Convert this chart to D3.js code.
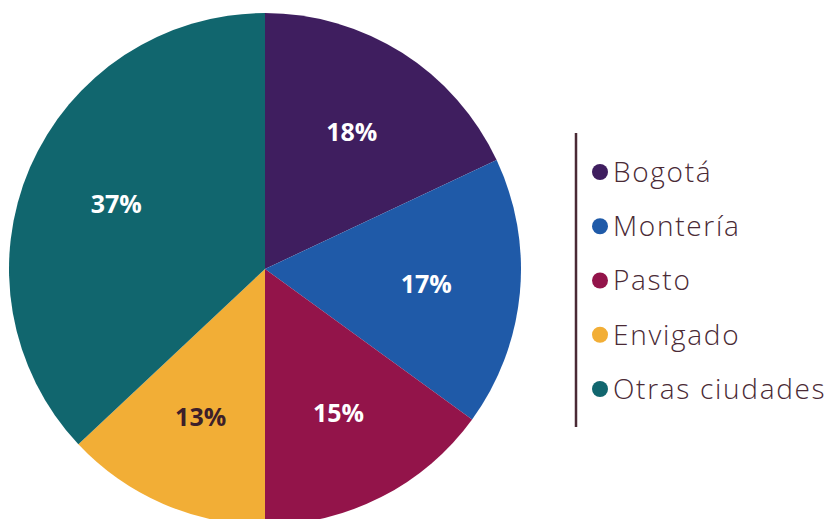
<!DOCTYPE html>
<html>
<head>
  <meta charset="UTF-8">
  <title>Ciudades</title>
  <script src="https://d3js.org/d3.v7.min.js"></script>
  <style>
    body { margin: 0; background: #fff; }
    .chart text { font-family: "Open Sans", Lato, sans-serif; }
  </style>
</head>
<body>

<div class="chart"></div>

<script>

  var categories = ['Bogotá', 'Montería', 'Pasto', 'Envigado', 'Otras ciudades'];
  var values = [18, 17, 15, 13, 37];
  var colors = ['#3f1e5f', '#1f5aa8', '#93144a', '#f2ae36', '#11666e'];
  var labelColors = ['#fff', '#fff', '#fff', '#3d1f2a', '#fff'];

  var width = 830, height = 519;
  var cx = 265, cy = 269, radius = 256;

  var svg = d3.select('.chart')
    .append('svg')
      .attr('width', width)
      .attr('height', height);

  var data = categories.map((c, i) => ({ name: c, value: values[i], color: colors[i], lc: labelColors[i] }));

  var pie = d3.pie().sort(null).value(d => d.value);
  var arc = d3.arc().innerRadius(0).outerRadius(radius);
  var labelArc = d3.arc().innerRadius(162).outerRadius(162);

  var g = svg.append('g')
    .attr('transform', `translate(${cx}, ${cy})`);

  var slices = g.selectAll('.slice')
    .data(pie(data))
    .enter()
    .append('g')
    .attr('class', 'slice');

  slices.append('path')
    .attr('d', arc)
    .style('fill', d => d.data.color);

  slices.append('text')
    .attr('transform', d => `translate(${labelArc.centroid(d)})`)
    .attr('dy', '0.35em')
    .style('text-anchor', 'middle')
    .style('font-size', '25px')
    .style('font-weight', 'bold')
    .style('fill', d => d.data.lc)
    .text(d => d.data.value + '%');

  // legend
  var legendY = d3.scalePoint()
    .domain(categories)
    .range([172, 389]);

  svg.append('line')
    .attr('x1', 576).attr('x2', 576)
    .attr('y1', 133).attr('y2', 427)
    .style('stroke', '#4a2a35')
    .style('stroke-width', 2.5);

  var items = svg.selectAll('.legend')
    .data(data)
    .enter()
    .append('g')
    .attr('class', 'legend')
    .attr('transform', d => `translate(600, ${legendY(d.name)})`);

  items.append('circle')
    .attr('r', 8)
    .style('fill', d => d.color);

  items.append('text')
    .attr('x', 13)
    .attr('dy', '0.35em')
    .style('font-size', '28px')
    .style('font-weight', 300)
    .style('letter-spacing', '1.7px')
    .style('fill', '#4a2a35')
    .text(d => d.name);

</script>

</body>
</html>
